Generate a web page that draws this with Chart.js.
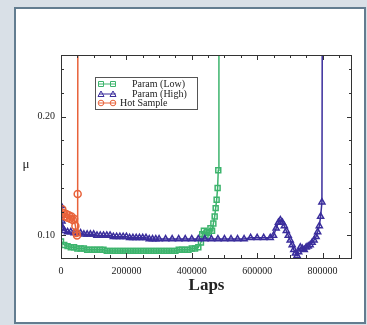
<!DOCTYPE html>
<html>
<head>
<meta charset="utf-8">
<script src="https://cdn.jsdelivr.net/npm/chart.js@4.4.0/dist/chart.umd.min.js"></script>
<style>
html,body{margin:0;padding:0;background:#d9e0e7;}
#marco{position:absolute;left:14px;top:7px;width:348px;height:313px;background:#fff;border:2px solid #637d90;}
#grafico{position:absolute;left:0;top:0;}
</style>
</head>
<body>
<div id="marco"></div>
<canvas id="grafico" width="367" height="325"></canvas>
<script>
// datos (vueltas, coeficiente mu)
var lapsBajo = [0, 10000, 20000, 30000, 40000, 50000, 60000, 70000, 80000, 90000, 100000, 110000, 120000, 130000, 140000, 150000, 160000, 170000, 180000, 190000, 200000, 210000, 220000, 230000, 240000, 250000, 260000, 270000, 280000, 290000, 300000, 310000, 320000, 330000, 340000, 350000, 360000, 370000, 380000, 390000, 400000, 410000, 420000, 428000, 432000, 437000, 442000, 447000, 452000, 457000, 462000, 466000, 470000, 473000, 476000, 479000, 481000, 483000];
var muBajo = [0.095, 0.092, 0.091, 0.090, 0.090, 0.089, 0.089, 0.089, 0.088, 0.088, 0.088, 0.088, 0.088, 0.088, 0.087, 0.087, 0.087, 0.087, 0.087, 0.087, 0.087, 0.087, 0.087, 0.087, 0.087, 0.087, 0.087, 0.087, 0.087, 0.087, 0.087, 0.087, 0.087, 0.087, 0.087, 0.087, 0.088, 0.088, 0.088, 0.088, 0.089, 0.089, 0.090, 0.094, 0.101, 0.104, 0.100, 0.103, 0.102, 0.106, 0.104, 0.110, 0.116, 0.123, 0.130, 0.140, 0.155, 0.400];

var lapsAlto = [0, 3000, 6000, 10000, 20000, 30000, 40000, 50000, 60000, 70000, 80000, 90000, 100000, 110000, 120000, 130000, 140000, 150000, 160000, 170000, 180000, 190000, 200000, 210000, 220000, 230000, 240000, 250000, 260000, 270000, 280000, 290000, 300000, 320000, 340000, 360000, 380000, 400000, 420000, 440000, 460000, 480000, 500000, 520000, 540000, 560000, 580000, 600000, 620000, 640000, 650000, 658000, 665000, 671000, 677000, 683000, 689000, 695000, 701000, 707000, 712000, 717000, 722000, 727000, 732000, 738000, 744000, 750000, 756000, 762000, 768000, 774000, 780000, 785000, 790000, 794000, 798000, 800000];
var muAlto = [0.125, 0.112, 0.106, 0.104, 0.103, 0.103, 0.102, 0.102, 0.102, 0.101, 0.101, 0.101, 0.101, 0.100, 0.100, 0.100, 0.100, 0.100, 0.099, 0.099, 0.099, 0.099, 0.099, 0.098, 0.098, 0.098, 0.098, 0.098, 0.098, 0.097, 0.097, 0.097, 0.097, 0.097, 0.097, 0.097, 0.097, 0.097, 0.097, 0.097, 0.097, 0.097, 0.097, 0.097, 0.097, 0.097, 0.098, 0.098, 0.098, 0.098, 0.100, 0.106, 0.111, 0.113, 0.111, 0.108, 0.104, 0.100, 0.096, 0.092, 0.088, 0.085, 0.083, 0.086, 0.090, 0.089, 0.088, 0.090, 0.091, 0.092, 0.094, 0.096, 0.099, 0.103, 0.108, 0.116, 0.128, 0.400];

var lapsCaliente = [0, 4000, 8000, 12000, 16000, 20000, 24000, 28000, 32000, 36000, 40000, 44000, 47000, 49000, 51000, 52000];
var muCaliente = [0.117, 0.122, 0.119, 0.116, 0.118, 0.115, 0.117, 0.114, 0.116, 0.113, 0.114, 0.108, 0.102, 0.100, 0.135, 0.400];

var etiquetas = ['Param (Low)', 'Param (High)', 'Hot Sample'];
var ticksX = [0, 200000, 400000, 600000, 800000];
var ticksY = [0.10, 0.20];

function puntos(xs, ys){
    return xs.map((x, i) => ({x: x, y: ys[i]}));
}

function esMultiplo(v, paso){
    return Math.abs(v / paso - Math.round(v / paso)) < 1e-6;
}

// marco negro con marcas hacia adentro en los cuatro lados
const marcoPlugin = {
    id: 'marco',
    afterDatasetsDraw(chart){
        const {ctx, chartArea: a, scales} = chart;
        ctx.save();
        ctx.strokeStyle = '#333';
        ctx.lineWidth = 1;
        ctx.strokeRect(a.left + 0.5, a.top + 0.5, a.right - a.left - 1, a.bottom - a.top);
        ctx.beginPath();
        // marcas menores cada 50000 entre 0 y el maximo
        for (let v = 0; v < scales.x.max; v += 50000){
            const largo = esMultiplo(v, 200000) ? 5 : 3;
            const px = Math.round(scales.x.getPixelForValue(v)) + 0.5;
            ctx.moveTo(px, a.bottom); ctx.lineTo(px, a.bottom - largo);
            ctx.moveTo(px, a.top); ctx.lineTo(px, a.top + largo);
        }
        for (let k = 5; k * 0.02 < scales.y.max; k++){
            const v = k * 0.02;
            const largo = k % 5 === 0 ? 5 : 3;
            const py = Math.round(scales.y.getPixelForValue(v)) + 0.5;
            ctx.moveTo(a.left, py); ctx.lineTo(a.left + largo, py);
            ctx.moveTo(a.right, py); ctx.lineTo(a.right - largo, py);
        }
        ctx.stroke();
        // titulo del eje y, derecho
        ctx.fillStyle = '#222';
        ctx.font = '13px "Liberation Serif"';
        ctx.textAlign = 'center';
        ctx.textBaseline = 'middle';
        ctx.fillText('\u03bc', 26, scales.y.getPixelForValue(0.16));
        ctx.restore();
    }
};

function marcador(ctx, estilo, x, y){
    ctx.beginPath();
    if (estilo === 'rect'){
        ctx.rect(x - 2.5, y - 2.5, 5, 5);
    } else if (estilo === 'triangle'){
        ctx.moveTo(x, y - 3);
        ctx.lineTo(x + 3, y + 2.5);
        ctx.lineTo(x - 3, y + 2.5);
        ctx.closePath();
    } else {
        ctx.arc(x, y, 2.8, 0, Math.PI * 2);
    }
    ctx.stroke();
}

// leyenda dentro del area del grafico
const leyendaPlugin = {
    id: 'leyenda',
    afterDraw(chart){
        const {ctx, chartArea: a} = chart;
        const bx = a.left + 34, by = a.top + 22;
        ctx.save();
        ctx.fillStyle = '#fff';
        ctx.fillRect(bx, by, 102, 32);
        ctx.strokeStyle = '#555';
        ctx.lineWidth = 1;
        ctx.strokeRect(bx + 0.5, by + 0.5, 102, 32);
        const filas = [7, 17, 26];
        const sangria = [37, 37, 25];
        chart.data.datasets.forEach((d, i) => {
            const y = by + filas[i];
            ctx.strokeStyle = d.borderColor;
            ctx.lineWidth = 1;
            ctx.beginPath();
            ctx.moveTo(bx + 4, y); ctx.lineTo(bx + 21, y);
            ctx.stroke();
            marcador(ctx, d.pointStyle, bx + 6, y);
            marcador(ctx, d.pointStyle, bx + 18, y);
            ctx.fillStyle = '#222';
            ctx.font = '10px "Liberation Serif"';
            ctx.textAlign = 'left';
            ctx.textBaseline = 'middle';
            ctx.fillText(d.label, bx + sangria[i], y);
        });
        ctx.restore();
    }
};

function serie(label, datos, color, estilo, orden){
    return {
        label: label,
        data: datos,
        showLine: true,
        borderColor: color,
        borderWidth: 1.5,
        pointStyle: estilo,
        pointRadius: 3.5,
        pointBorderWidth: 1.5,
        pointBackgroundColor: 'rgba(0,0,0,0)',
        pointBorderColor: color,
        order: orden
    };
}

document.addEventListener('DOMContentLoaded', () => {
    const ctx = document.getElementById('grafico').getContext('2d');
    new Chart(ctx, {
        type: 'scatter',
        data: {
            datasets: [
                serie(etiquetas[0], puntos(lapsBajo, muBajo), '#3db46d', 'rect', 2),
                serie(etiquetas[1], puntos(lapsAlto, muAlto), '#3a2d9c', 'triangle', 1),
                serie(etiquetas[2], puntos(lapsCaliente, muCaliente), '#e8623a', 'circle', 0)
            ]
        },
        options: {
            responsive: false,
            animation: false,
            devicePixelRatio: 1,
            layout: { padding: { left: 18, right: 15, top: 55, bottom: 26 } },
            plugins: {
                legend: { display: false },
                tooltip: { enabled: false }
            },
            scales: {
                x: {
                    type: 'linear',
                    min: 0,
                    max: 890000,
                    grid: { display: false, drawTicks: false },
                    border: { display: false },
                    afterBuildTicks: s => { s.ticks = ticksX.map(v => ({value: v})); },
                    ticks: {
                        autoSkip: false,
                        maxRotation: 0,
                        padding: 7,
                        color: '#222',
                        font: { family: 'Liberation Serif', size: 10 },
                        callback: v => String(v)
                    },
                    title: {
                        display: true,
                        text: 'Laps',
                        color: '#222',
                        font: { family: 'Liberation Serif', size: 17, weight: 'bold' },
                        padding: { top: 0, bottom: 3 }
                    },
                    afterFit: s => { s.height = 41; }
                },
                y: {
                    min: 0.081,
                    max: 0.252,
                    grid: { display: false, drawTicks: false },
                    border: { display: false },
                    afterBuildTicks: s => { s.ticks = ticksY.map(v => ({value: v})); },
                    ticks: {
                        autoSkip: false,
                        padding: 6,
                        color: '#222',
                        font: { family: 'Liberation Serif', size: 10 },
                        callback: v => v.toFixed(2)
                    },
                    afterFit: s => { s.width = 43; }
                }
            }
        },
        plugins: [marcoPlugin, leyendaPlugin]
    });
});
</script>
</body>
</html>
